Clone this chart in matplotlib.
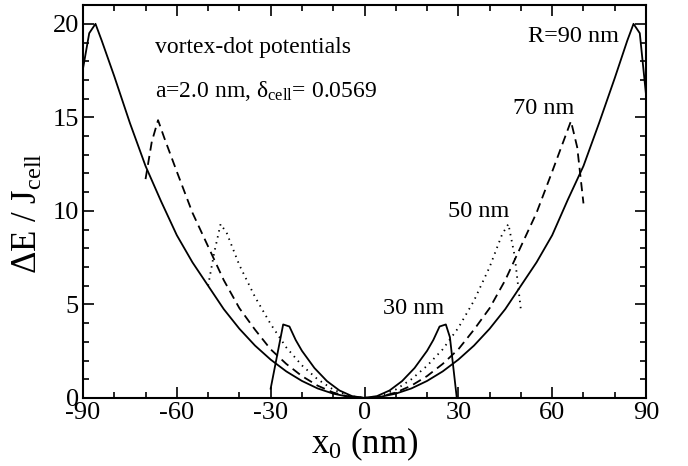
import numpy as np
import matplotlib
matplotlib.use('Agg')
import matplotlib.pyplot as plt

plt.rcParams['font.family'] = ['Liberation Serif', 'DejaVu Serif']
plt.rcParams['mathtext.fontset'] = 'custom'
plt.rcParams['mathtext.rm'] = 'Liberation Serif'
plt.rcParams['mathtext.it'] = 'Liberation Serif:italic'
plt.rcParams['axes.unicode_minus'] = False

# R = 90 nm (solid)
x90 = [-90, -88, -86, -84, -80, -75, -70, -65, -60, -55, -50, -45, -40, -35, -30, -25, -20, -15, -10, -5,
       0, 5, 10, 15, 20, 25, 30, 35, 40, 45, 50, 55, 60, 65, 70, 75, 80, 84, 86, 88, 90]
y90 = [17.6, 19.5, 20.0, 19.1, 17.2, 14.7, 12.4, 10.5, 8.7, 7.25, 6.0, 4.75, 3.7, 2.8, 2.05, 1.42, 0.91, 0.51, 0.23, 0.06,
       0.0, 0.06, 0.23, 0.51, 0.91, 1.42, 2.05, 2.8, 3.7, 4.75, 6.0, 7.25, 8.7, 10.6, 12.4, 14.7, 17.1, 19.1, 20.0, 19.5, 16.2]

# R = 70 nm (dashed)
x70 = [-70, -68, -66, -64, -60, -55, -50, -45, -40, -35, -30, -25, -20, -15, -10, -5,
       0, 5, 10, 15, 20, 25, 30, 35, 40, 45, 50, 55, 60, 64, 66, 68, 70]
y70 = [11.7, 13.7, 14.85, 13.9, 12.1, 9.9, 8.1, 6.3, 4.8, 3.65, 2.6, 1.82, 1.17, 0.66, 0.29, 0.07,
       0.0, 0.07, 0.29, 0.66, 1.17, 1.82, 2.6, 3.65, 4.8, 6.3, 8.1, 9.9, 12.1, 13.9, 14.8, 13.4, 10.4]

# R = 50 nm (dotted)
x50 = [-50, -48, -46, -44, -40, -35, -30, -25, -20, -15, -10, -5,
       0, 5, 10, 15, 20, 25, 30, 35, 40, 44, 46, 48, 50]
y50 = [6.0, 7.8, 9.3, 8.8, 7.1, 5.4, 3.95, 2.7, 1.74, 1.0, 0.45, 0.11,
       0.0, 0.11, 0.45, 1.0, 1.72, 2.6, 3.75, 5.2, 7.0, 8.75, 9.3, 7.6, 4.7]

# R = 30 nm (solid)
x30 = [-30, -26, -24, -22, -20, -16, -12, -8, -4, 0, 4, 8, 12, 16, 20, 22, 24, 26, 27.3, 29.5]
y30 = [0.5, 3.93, 3.82, 3.1, 2.52, 1.6, 0.9, 0.4, 0.1, 0.0, 0.1, 0.4, 0.9, 1.6, 2.52, 3.1, 3.82, 3.93, 3.25, 0.0]

fig = plt.figure(figsize=(6.88, 4.66), dpi=100)
ax = fig.add_axes([0.1206, 0.146, 0.8184, 0.843])

ax.plot(x90, y90, color='black', lw=1.3)
ax.plot(x70, y70, color='black', lw=1.3, linestyle=(0, (5, 3)))
ax.plot(x50, y50, color='black', lw=1.3, linestyle=(0, (0.8, 2.6)))
ax.plot(x30, y30, color='black', lw=1.3)

ax.set_xlim(-90, 90)
ax.set_ylim(0, 21)
ax.set_xticks(np.arange(-90, 91, 30))
ax.set_xticks(np.arange(-90, 91, 10), minor=True)
ax.set_yticks(np.arange(0, 21, 5))
ax.set_yticks(np.arange(0, 22, 1), minor=True)
ax.tick_params(which='both', direction='in', top=True, right=True, width=1.2, labelsize=19)
ax.tick_params(which='major', length=8)
ax.tick_params(which='minor', length=4)
ax.tick_params(axis='x', pad=3)
ax.tick_params(axis='y', pad=3)
for s in ax.spines.values():
    s.set_linewidth(1.5)

ax.set_xlabel('x$_0$ (nm)', fontsize=25)
ax.set_ylabel('ΔE / J$_{\\rm cell}$', fontsize=25)
ax.xaxis.set_label_coords(0.5, -0.07)
ax.yaxis.set_label_coords(-0.068, 0.47)

ax.text(-67, 18.45, 'vortex-dot potentials', fontsize=17)
ax.text(-67, 16.1, 'a=2.0 nm, δ$_{\\rm cell}$= 0.0569', fontsize=17)
ax.text(52.4, 19.05, 'R=90 nm', fontsize=17.5)
ax.text(47.6, 15.2, '70 nm', fontsize=17.5)
ax.text(26.8, 9.7, '50 nm', fontsize=17.5)
ax.text(5.8, 4.5, '30 nm', fontsize=17.5)

fig.savefig('out.png', dpi=100)
